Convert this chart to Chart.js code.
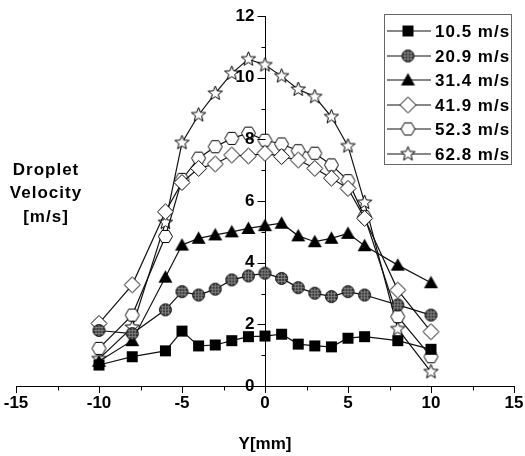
<!DOCTYPE html>
<html><head><meta charset="utf-8">
<script src="https://cdn.jsdelivr.net/npm/chart.js@4/dist/chart.umd.min.js"></script>
<style>html,body{margin:0;padding:0;background:#fff}#wrap{position:relative;width:525px;height:456px}</style>
</head><body><div id="wrap"><canvas id="c" width="525" height="456"></canvas></div>
<script>
// ---- data ----
const positions = [-10,-8,-6,-5,-4,-3,-2,-1,0,1,2,3,4,5,6,8,10];
const seriesNames = ['10.5 m/s','20.9 m/s','31.4 m/s','41.9 m/s','52.3 m/s','62.8 m/s'];
const v105 = [0.68,0.95,1.14,1.78,1.30,1.33,1.47,1.60,1.62,1.68,1.36,1.30,1.27,1.55,1.60,1.47,1.19];
const v209 = [1.80,1.70,2.47,3.06,2.95,3.14,3.44,3.57,3.66,3.49,3.19,3.01,2.90,3.06,2.95,2.63,2.30];
const v314 = [0.80,1.47,3.53,4.57,4.79,4.90,5.00,5.11,5.20,5.28,4.87,4.68,4.79,4.95,4.55,3.92,3.35];
const v419 = [2.03,3.28,5.65,6.60,7.06,7.20,7.49,7.46,7.55,7.44,7.33,7.06,6.74,6.41,5.44,3.11,1.76];
const v523 = [1.22,2.30,4.85,6.70,7.39,7.76,8.03,8.20,7.97,7.85,7.63,7.55,7.17,6.66,5.49,2.25,0.95];
const v628 = [0.88,1.90,5.30,7.89,8.79,9.49,10.14,10.60,10.41,10.05,9.62,9.38,8.73,7.78,5.95,1.85,0.46];
const xTicks = [-15,-10,-5,0,5,10,15];
const yTicks = [0,2,4,6,8,10,12];
const xMinor = [-12.5,-7.5,-2.5,2.5,7.5,12.5];
const yMinor = [1,3,5,7,9,11];
const yTitleLines = ['Droplet','Velocity','[m/s]'];
const xTitle = 'Y[mm]';
const markerKinds = ['square','circle','triangle','diamond','hexagon','star'];
const seriesValues = [v105,v209,v314,v419,v523,v628];

const FONT = '"Liberation Sans", Arial, sans-serif';

function marker(kind){
  const s = 19; const c = document.createElement('canvas'); c.width = s; c.height = s;
  const g = c.getContext('2d'); g.translate(s/2, s/2); g.lineWidth = 1; g.strokeStyle = '#000';
  g.beginPath();
  if (kind === 'square') {
    g.fillStyle = '#000'; g.fillRect(-5.5,-5.5,11,11);
  } else if (kind === 'circle') {
    g.arc(0,0,6,0,Math.PI*2); g.fillStyle = '#3a3a3a'; g.fill();
    g.save(); g.clip(); g.strokeStyle = '#8a8a8a'; g.lineWidth = 0.8;
    for (let k=-6;k<=6;k+=3){ g.beginPath(); g.moveTo(k,-7); g.lineTo(k,7); g.moveTo(-7,k); g.lineTo(7,k); g.stroke(); }
    g.restore(); g.beginPath(); g.arc(0,0,6,0,Math.PI*2); g.strokeStyle='#111'; g.stroke();
  } else if (kind === 'triangle') {
    g.moveTo(0,-7); g.lineTo(7,5.5); g.lineTo(-7,5.5); g.closePath(); g.fillStyle = '#000'; g.fill();
  } else if (kind === 'diamond') {
    g.moveTo(0,-8); g.lineTo(8,0); g.lineTo(0,8); g.lineTo(-8,0); g.closePath(); g.fillStyle = '#fff'; g.fill(); g.stroke();
  } else if (kind === 'hexagon') {
    for (let k=0;k<6;k++){ const a = k*Math.PI/3; const px = 7*Math.cos(a), py = 7*Math.sin(a); k?g.lineTo(px,py):g.moveTo(px,py); }
    g.closePath(); g.fillStyle = '#fff'; g.fill(); g.stroke();
  } else if (kind === 'star') {
    for (let k=0;k<10;k++){ const r = k%2 ? 3.2 : 7.5; const a = -Math.PI/2 + k*Math.PI/5; const px=r*Math.cos(a), py=r*Math.sin(a); k?g.lineTo(px,py):g.moveTo(px,py); }
    g.closePath(); g.fillStyle = '#fff'; g.fill(); g.stroke();
  }
  return c;
}

const datasets = seriesNames.map((name,i)=>({
  label: name,
  data: positions.map((x,j)=>({x:x, y:seriesValues[i][j]})),
  borderColor: '#111', borderWidth: 1.2, backgroundColor: '#000',
  pointStyle: marker(markerKinds[i]), pointRadius: 7, pointHoverRadius: 7,
  tension: 0, clip: false
}));

const extras = {
  id: 'extras',
  afterDraw(chart){
    const ctx = chart.ctx, xs = chart.scales.x, ys = chart.scales.y;
    ctx.save();
    ctx.strokeStyle = '#000'; ctx.lineWidth = 1;
    const ax = Math.round(xs.getPixelForValue(0)) + 0.5;
    const ay = Math.round(ys.getPixelForValue(0)) + 0.5;
    ctx.beginPath();
    xMinor.forEach(v=>{ const p = Math.round(xs.getPixelForValue(v))+0.5; ctx.moveTo(p, ay); ctx.lineTo(p, ay+4); });
    yMinor.forEach(v=>{ const p = Math.round(ys.getPixelForValue(v))+0.5; ctx.moveTo(ax, p); ctx.lineTo(ax-4, p); });
    yTicks.forEach(v=>{ const p = Math.round(ys.getPixelForValue(v))+0.5; ctx.moveTo(ax, p); ctx.lineTo(ax-8, p); });
    ctx.stroke();
    // y tick labels
    ctx.fillStyle = '#000'; ctx.font = 'bold 17px ' + FONT; ctx.textAlign = 'right'; ctx.textBaseline = 'middle';
    yTicks.forEach(v=>{ ctx.fillText(String(v), ax - 11, ys.getPixelForValue(v)); });
    // y title
    ctx.textAlign = 'center';
    try { ctx.letterSpacing = '1px'; } catch(e) {}
    yTitleLines.forEach((t,i)=> ctx.fillText(t, 46, 170 + i*23.5));
    // legend
    const x0 = 384, y0 = 14, w = 127, h = 150;
    ctx.strokeStyle = '#666'; ctx.lineWidth = 1; ctx.strokeRect(x0+0.5, y0+0.5, w, h);
    ctx.textAlign = 'left';
    chart.data.datasets.forEach((ds,i)=>{
      const y = Math.round(31 + i*24.5);
      ctx.strokeStyle = '#111'; ctx.lineWidth = 1.2;
      ctx.beginPath(); ctx.moveTo(387, y); ctx.lineTo(431, y); ctx.stroke();
      const img = ds.pointStyle; ctx.drawImage(img, 408 - img.width/2, y - img.height/2);
      ctx.fillText(ds.label, 435, y + 1);
    });
    ctx.restore();
  }
};

new Chart(document.getElementById('c'), {
  type: 'line',
  data: { datasets },
  options: {
    responsive: false, animation: false, devicePixelRatio: 1,
    layout: { padding: { left: 16, right: 11, top: 16, bottom: 0 } },
    plugins: { legend: { display: false }, tooltip: { enabled: false } },
    scales: {
      x: {
        type: 'linear', min: -15, max: 15, position: 'bottom',
        afterBuildTicks: s => { s.ticks = xTicks.map(v=>({value:v})); },
        afterFit: s => { s.height = 70; },
        ticks: { color: '#000', font: { family: FONT, size: 17, weight: 'bold' }, padding: 0, maxRotation: 0, autoSkip: false },
        grid: { drawOnChartArea: false, drawTicks: true, tickLength: 7, color: '#000', lineWidth: 1 },
        border: { display: true, color: '#000', width: 1 },
        title: { display: true, text: xTitle, color: '#000', font: { family: FONT, size: 17, weight: 'bold' }, padding: { top: 0, bottom: 1 } }
      },
      y: {
        type: 'linear', min: 0, max: 12, position: { x: 0 },
        afterBuildTicks: s => { s.ticks = yTicks.map(v=>({value:v})); },
        ticks: { display: false },
        grid: { drawOnChartArea: false, drawTicks: false, color: '#000', lineWidth: 1 },
        border: { display: true, color: '#000', width: 1 }
      }
    }
  },
  plugins: [extras]
});
</script></body></html>
